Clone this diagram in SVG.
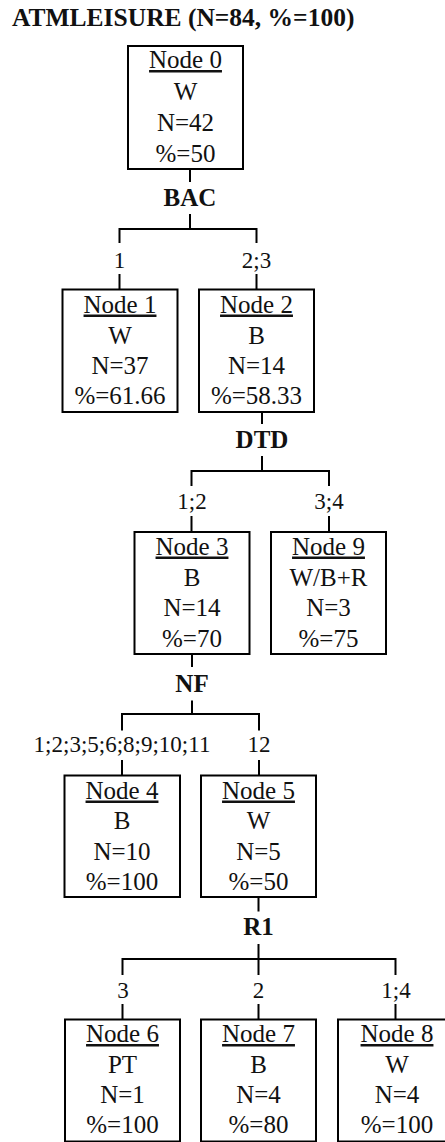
<svg xmlns="http://www.w3.org/2000/svg" width="445" height="1142" viewBox="0 0 445 1142">
<style>
.box{fill:#fff;stroke:#000;stroke-width:2}
.t{font-family:"Liberation Serif","Times New Roman",serif;font-size:25px;fill:#111;text-anchor:middle}
.u{text-decoration:underline}
.b{font-family:"Liberation Serif","Times New Roman",serif;font-size:25px;font-weight:bold;fill:#111;text-anchor:middle}
.e{font-family:"Liberation Serif","Times New Roman",serif;font-size:23px;fill:#111;text-anchor:middle}
.c{stroke:#000;stroke-width:2;fill:none}
</style>
<rect width="445" height="1142" fill="#fff"/>
<text x="12" y="26" font-family="Liberation Serif,'Times New Roman',serif" font-size="25.5" font-weight="bold" fill="#111">ATMLEISURE (N=84, %=100)</text>
<g id="connectors">
<path class="c" d="M190 169V182M190 214V229M119.5 229H256.5M119.5 228V243M256.5 228V243M119.5 274V289.5M256.5 274V289.5"/>
<path class="c" d="M262 412V424M262 456V471M191.5 471H329M191.5 470V486M329 470V486M191.5 516V532M329 516V532"/>
<path class="c" d="M192 654V667M192 700.5V714M122 714H259M122 713V730.5M259 713V730.5M122 760V775.5M259 760V775.5"/>
<path class="c" d="M258.5 897V911.5M258.5 944V975M122.5 959H395.5M122.5 958V975M395.5 958V975M122.5 1004V1019.5M258.5 1004V1019.5M395.5 1004V1019.5"/>
<text class="b" x="190" y="206">BAC</text>
<text class="e" x="119.5" y="267.5">1</text>
<text class="e" x="256.5" y="267.5">2;3</text>
<text class="b" x="262" y="447.5">DTD</text>
<text class="e" x="192" y="509">1;2</text>
<text class="e" x="329" y="509">3;4</text>
<text class="b" x="192" y="691.5">NF</text>
<text class="e" x="122" y="751.5">1;2;3;5;6;8;9;10;11</text>
<text class="e" x="259" y="751.5">12</text>
<text class="b" x="258.5" y="935">R1</text>
<text class="e" x="123" y="998">3</text>
<text class="e" x="258.5" y="998">2</text>
<text class="e" x="396" y="998">1;4</text>
</g>
<g id="node0">
<rect class="box" x="128" y="46" width="115" height="123"/>
<text class="t u" x="185.5" y="68">Node 0</text>
<text class="t" x="185.5" y="99.5">W</text>
<text class="t" x="185.5" y="131">N=42</text>
<text class="t" x="185.5" y="161.5">%=50</text>
</g>
<g id="node1">
<rect class="box" x="62.5" y="289.5" width="115" height="122.5"/>
<text class="t u" x="120" y="312.5">Node 1</text>
<text class="t" x="120" y="343.5">W</text>
<text class="t" x="120" y="374">N=37</text>
<text class="t" x="120" y="404">%=61.66</text>
</g>
<g id="node2">
<rect class="box" x="199" y="289.5" width="115" height="122.5"/>
<text class="t u" x="256.5" y="312.5">Node 2</text>
<text class="t" x="256.5" y="343.5">B</text>
<text class="t" x="256.5" y="374">N=14</text>
<text class="t" x="256.5" y="404">%=58.33</text>
</g>
<g id="node3">
<rect class="box" x="134.5" y="532" width="115" height="122"/>
<text class="t u" x="192" y="554.5">Node 3</text>
<text class="t" x="192" y="585.5">B</text>
<text class="t" x="192" y="616">N=14</text>
<text class="t" x="192" y="646.5">%=70</text>
</g>
<g id="node9">
<rect class="box" x="271" y="532" width="115" height="122"/>
<text class="t u" x="328.5" y="554.5">Node 9</text>
<text class="t" x="328.5" y="585.5">W/B+R</text>
<text class="t" x="328.5" y="616">N=3</text>
<text class="t" x="328.5" y="646.5">%=75</text>
</g>
<g id="node4">
<rect class="box" x="64.5" y="775.5" width="115.5" height="121.5"/>
<text class="t u" x="122" y="798.5">Node 4</text>
<text class="t" x="122" y="829">B</text>
<text class="t" x="122" y="859.5">N=10</text>
<text class="t" x="122" y="889.5">%=100</text>
</g>
<g id="node5">
<rect class="box" x="201" y="775.5" width="115" height="121.5"/>
<text class="t u" x="258.5" y="798.5">Node 5</text>
<text class="t" x="258.5" y="829">W</text>
<text class="t" x="258.5" y="859.5">N=5</text>
<text class="t" x="258.5" y="889.5">%=50</text>
</g>
<g id="node6">
<rect class="box" x="65" y="1019.5" width="115" height="122"/>
<text class="t u" x="122.5" y="1042">Node 6</text>
<text class="t" x="122.5" y="1072.5">PT</text>
<text class="t" x="122.5" y="1103">N=1</text>
<text class="t" x="122.5" y="1133">%=100</text>
</g>
<g id="node7">
<rect class="box" x="201" y="1019.5" width="115" height="122"/>
<text class="t u" x="258.5" y="1042">Node 7</text>
<text class="t" x="258.5" y="1072.5">B</text>
<text class="t" x="258.5" y="1103">N=4</text>
<text class="t" x="258.5" y="1133">%=80</text>
</g>
<g id="node8">
<rect class="box" x="338" y="1019.5" width="115" height="122"/>
<text class="t u" x="397" y="1042">Node 8</text>
<text class="t" x="397" y="1072.5">W</text>
<text class="t" x="397" y="1103">N=4</text>
<text class="t" x="397" y="1133">%=100</text>
</g>
</svg>
